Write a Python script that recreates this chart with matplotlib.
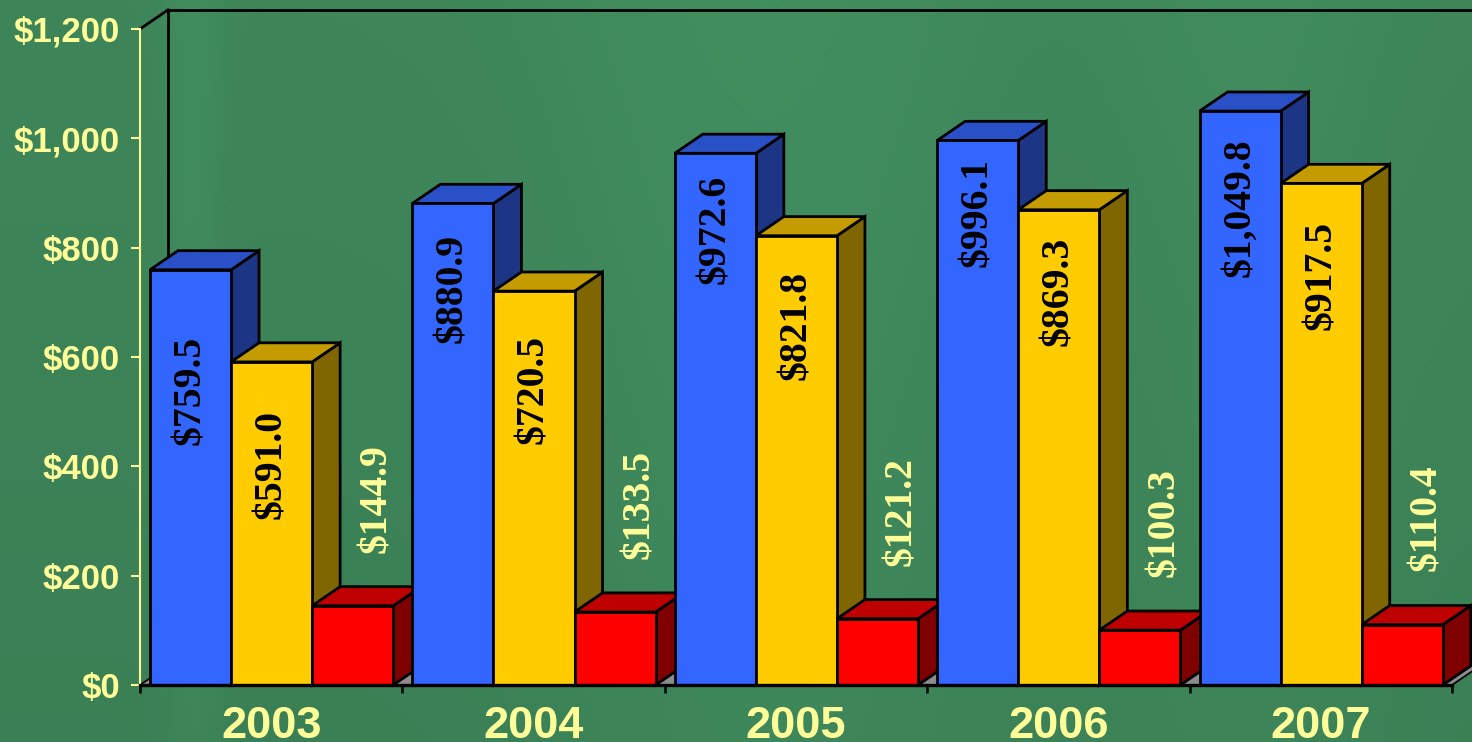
import numpy as np
import matplotlib.pyplot as plt
from matplotlib.patches import Polygon

###############################################################################
# Data
###############################################################################
years = ['2003', '2004', '2005', '2006', '2007']
blue_vals = [759.5, 880.9, 972.6, 996.1, 1049.8]
yellow_vals = [591.0, 720.5, 821.8, 869.3, 917.5]
red_vals = [144.9, 133.5, 121.2, 100.3, 110.4]
yticks = [0, 200, 400, 600, 800, 1000, 1200]

# how far below the bar top the inner labels sit (value units)
blue_drop = [220, 155, 140, 131, 177]
yellow_drop = [187, 179, 164, 150, 169]

###############################################################################
# Style
###############################################################################
plt.rcParams['font.family'] = ['Liberation Sans', 'DejaVu Sans']
plt.rcParams['font.weight'] = 'bold'

pale = '#FFFF99'
faces = [('#3366FF', '#2A50C8', '#1C3585'),   # front, top, side
         ('#FFCC00', '#C49C00', '#7F6600'),
         ('#FF0000', '#BF0000', '#7F0000')]

W, H = 1472, 742
fig = plt.figure(figsize=(W/100, H/100), dpi=100)

# chalkboard background
bg = fig.add_axes([0, 0, 1, 1], zorder=-5)
xx, yy = np.meshgrid(np.linspace(0, 1, 400), np.linspace(0, 1, 200))
shade = (0.05*np.exp(-((xx-0.13)/0.02)**2) + 0.06*np.exp(-((xx-0.52)/0.15)**2)
         + 0.04*np.exp(-((xx-0.85)/0.1)**2) - 0.05*yy)
base = np.array([62, 134, 90])/255.
img = np.clip(base[None, None, :]*(1 + shade[:, :, None]), 0, 1)
bg.imshow(img, aspect='auto', extent=[0, 1, 0, 1], origin='upper')
bg.axis('off')

ax = fig.add_axes([140/W, 57/H, 1312/W, 656/H])
ax.set_facecolor('none')
ax.set_xlim(0, 5)
ax.set_ylim(0, 1200)

dx = 28/262.4
dy = 35.0
off = 0.038
bw = 0.309
lw = 2.0

# floor and back wall
ax.add_patch(Polygon([(0, 0), (5, 0), (5+dx, dy), (dx, dy)], closed=True,
                     fc='#8C8C8C', ec='black', lw=1.2, zorder=1, clip_on=False))
ax.plot([dx, dx], [dy, 1200+dy], color='black', lw=lw, zorder=1.5, clip_on=False)
ax.plot([dx, 5.3], [1200+dy, 1200+dy], color='black', lw=lw, zorder=1.5, clip_on=False)
ax.plot([0, dx], [1200, 1200+dy], color='black', lw=lw, zorder=1.5, clip_on=False)

def bar3d(x0, h, cols, z):
    x1 = x0 + bw
    fr, tp, sd = cols
    ax.add_patch(Polygon([(x1, 0), (x1+dx, dy), (x1+dx, h+dy), (x1, h)],
                         fc=sd, ec='black', lw=lw, zorder=z, clip_on=False))
    ax.add_patch(Polygon([(x0, h), (x1, h), (x1+dx, h+dy), (x0+dx, h+dy)],
                         fc=tp, ec='black', lw=lw, zorder=z, clip_on=False))
    ax.add_patch(Polygon([(x0, 0), (x1, 0), (x1, h), (x0, h)],
                         fc=fr, ec='black', lw=lw, zorder=z, clip_on=False))

z = 2
for g in range(len(years)):
    for k, vals in enumerate([blue_vals, yellow_vals, red_vals]):
        bar3d(g + off + k*bw, vals[g], faces[k], z)
        z += 0.1

def money(v):
    return '\\$' + format(v, ',.1f')

for g in range(len(years)):
    for k, (vals, drop) in enumerate([(blue_vals, blue_drop), (yellow_vals, yellow_drop)]):
        ax.text(g + off + (k+0.5)*bw, vals[g] - drop[g], money(vals[g]), rotation=90,
                ha='center', va='center', color='black', fontsize=28.5,
                family='Liberation Serif', weight='bold', zorder=30)
    ax.text(g + 0.903, red_vals[g] + 196, money(red_vals[g]), rotation=90,
            ha='center', va='center', color=pale, fontsize=28.5,
            family='Liberation Serif', weight='bold', zorder=30)

# axes
for s in ['top', 'right']:
    ax.spines[s].set_visible(False)
ax.spines['left'].set_color(pale)
ax.spines['left'].set_linewidth(1.5)
ax.spines['bottom'].set_color('black')
ax.spines['bottom'].set_linewidth(2.4)
ax.spines['bottom'].set_zorder(25)

ax.set_yticks(yticks)
ax.set_yticklabels([money(v)[:-2] for v in yticks])
ax.tick_params(axis='y', colors=pale, length=6.5, width=1.5, pad=8, labelsize=25)

ax.set_xticks(range(6))
ax.set_xticklabels([])
ax.tick_params(axis='x', which='major', color='black', length=6, width=1.8)
ax.set_xticks([g + 0.5 for g in range(len(years))], minor=True)
ax.set_xticklabels(years, minor=True)
ax.tick_params(axis='x', which='minor', length=0, pad=15, labelsize=32.5, labelcolor=pale)

fig.savefig('out.png', dpi=100)
